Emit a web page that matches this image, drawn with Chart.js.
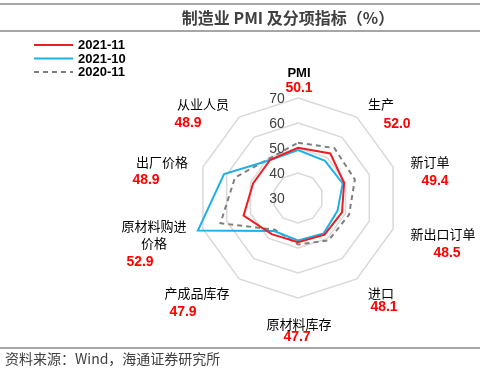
<!DOCTYPE html>
<html lang="zh-CN">
<head>
<meta charset="UTF-8">
<title>制造业PMI及分项指标</title>
<script src="https://cdn.jsdelivr.net/npm/chart.js"></script>
<style>
  body { margin: 0; background: #fff; }
  #wrap { width: 480px; height: 373px; }
</style>
</head>
<body>
<div id="wrap"><canvas id="radar" width="480" height="373"></canvas></div>

<script>
// dados
var categorias = ['PMI', '生产', '新订单', '新出口订单', '进口', '原材料库存', '产成品库存', '原材料购进价格', '出厂价格', '从业人员'];
var serie202111 = [50.1, 52.0, 49.4, 48.5, 48.1, 47.7, 47.9, 52.9, 48.9, 48.9];
var serie202110 = [49.2, 48.4, 48.8, 46.6, 47.5, 47.0, 46.3, 72.1, 61.1, 48.8];
var serie202011 = [52.1, 54.7, 53.9, 51.5, 50.9, 48.6, 45.7, 62.6, 56.5, 49.5];
var ticksValores = [30, 40, 50, 60, 70];

// posicao dos rotulos, relativa ao centro do radar
var posNome = [[1,-125],[83,-94],[132,-36],[145,36],[83,95],[1,126],[-101,95],[-144,28],[-136,-36],[-95,-94]];
var posValor = [[1,-110],[99,-74],[137,-17],[149,55],[86,109],[-1,139],[-115,114],[-158,64],[-152,-18],[-110,-75]];

var fonteCJK = '"Noto Sans CJK SC", "Noto Sans", sans-serif';
var fonteLat = '"Liberation Sans", Arial, sans-serif';

const textos = {
    id: 'textos',
    afterDraw(chart) {
        const ctx = chart.ctx;
        const r = chart.scales.r;
        const cx = r.xCenter, cy = r.yCenter;
        ctx.save();

        // linhas do cabecalho e rodape
        ctx.strokeStyle = '#a6a6a6';
        ctx.lineWidth = 2;
        [4, 31, 348].forEach(y => {
            ctx.beginPath();
            ctx.moveTo(0, y);
            ctx.lineTo(480, y);
            ctx.stroke();
        });

        ctx.textBaseline = 'middle';
        ctx.textAlign = 'center';
        ctx.fillStyle = '#404040';
        ctx.font = 'bold 16px ' + fonteCJK;
        ctx.fillText('制造业 PMI 及分项指标（%）', 288, 18);

        ctx.textAlign = 'left';
        ctx.font = '14px ' + fonteCJK;
        ctx.fillText('资料来源：Wind，海通证券研究所', 5, 359);

        // legenda
        chart.data.datasets.forEach((ds, i) => {
            const y = 45 + i * 13.5;
            ctx.strokeStyle = ds.borderColor;
            ctx.lineWidth = 2;
            ctx.setLineDash(ds.borderDash || []);
            ctx.beginPath();
            ctx.moveTo(34, y);
            ctx.lineTo(73, y);
            ctx.stroke();
            ctx.setLineDash([]);
            ctx.fillStyle = '#000';
            ctx.font = 'bold 13px ' + fonteLat;
            ctx.fillText(ds.label, 78, y + 0.5);
        });

        // valores do eixo
        ctx.textAlign = 'center';
        ctx.fillStyle = '#404040';
        ctx.font = '14px ' + fonteLat;
        ticksValores.forEach(v => {
            ctx.fillText(String(v), cx - 21, cy - r.getDistanceFromCenterForValue(v) + 1);
        });

        // nomes das categorias e valores de 2021-11
        categorias.forEach((c, i) => {
            const linhas = c === '原材料购进价格' ? ['原材料购进', '价格'] : [c];
            ctx.fillStyle = '#000';
            if (c === 'PMI') {
                ctx.font = 'bold 13px ' + fonteLat;
            } else {
                ctx.font = '13px ' + fonteCJK;
            }
            linhas.forEach((l, k) => {
                ctx.fillText(l, cx + posNome[i][0], cy + posNome[i][1] + k * 17);
            });
            ctx.fillStyle = '#ff0000';
            ctx.font = 'bold 14px ' + fonteLat;
            ctx.fillText(serie202111[i].toFixed(1), cx + posValor[i][0], cy + posValor[i][1]);
        });
        ctx.restore();
    }
};

const dados = {
    labels: categorias,
    datasets: [{
        label: '2021-11',
        data: serie202111,
        borderColor: '#ee1c24',
        borderWidth: 2
    }, {
        label: '2021-10',
        data: serie202110,
        borderColor: '#1eb1e6',
        borderWidth: 2
    }, {
        label: '2020-11',
        data: serie202011,
        borderColor: '#7f7f7f',
        borderWidth: 2,
        borderDash: [5, 4]
    }]
};

const config = {
    type: 'radar',
    data: dados,
    options: {
        responsive: false,
        animation: false,
        layout: {
            padding: { left: 198, right: 82, top: 98, bottom: 75 }
        },
        elements: {
            point: { radius: 0, hoverRadius: 0 },
            line: { fill: false, tension: 0 }
        },
        plugins: {
            legend: { display: false },
            title: { display: false },
            tooltip: { enabled: false }
        },
        scales: {
            r: {
                min: ticksValores[0],
                max: ticksValores[ticksValores.length - 1],
                ticks: { display: false, stepSize: 10 },
                pointLabels: { display: false },
                angleLines: { display: false },
                grid: { color: '#d9d9d9', lineWidth: 1.5 }
            }
        }
    },
    plugins: [textos]
};

const graficoRadar = new Chart(document.getElementById('radar'), config);
</script>
</body>
</html>
